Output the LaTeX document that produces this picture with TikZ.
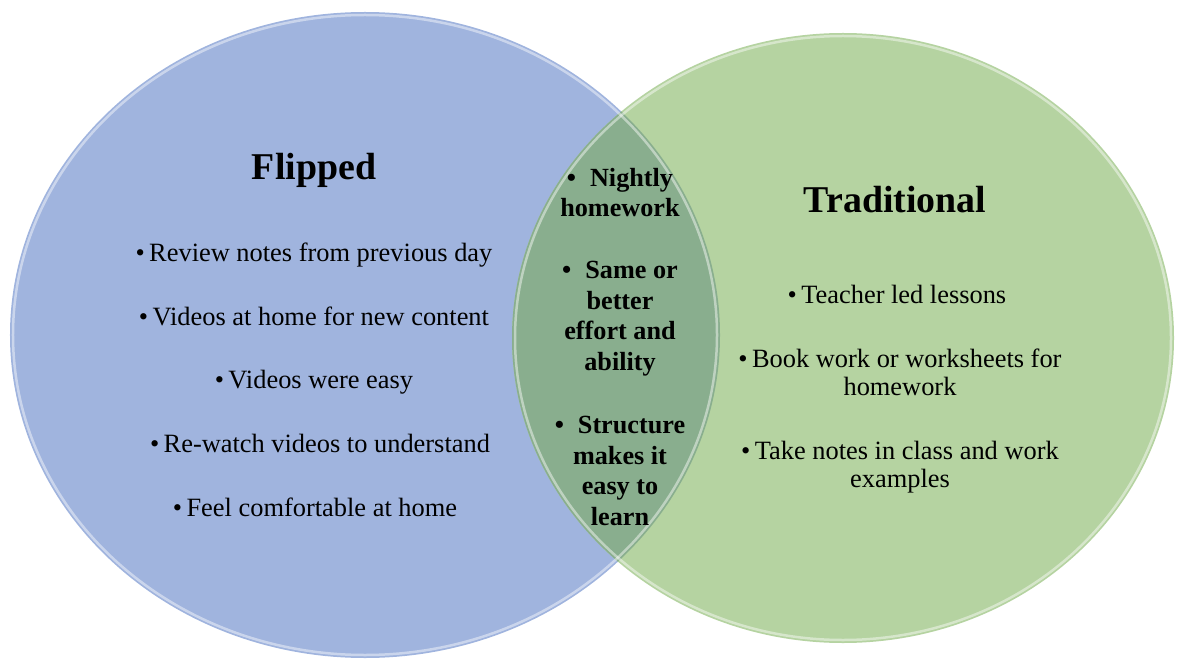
\documentclass[tikz,border=0pt]{standalone}
\usepackage{fontspec}
\setmainfont{Liberation Serif}
\usetikzlibrary{positioning}

\definecolor{flipblue}{RGB}{160,180,222}
\definecolor{tradgreen}{RGB}{181,211,161}
\definecolor{bothgreen}{RGB}{137,174,142}

\tikzset{
  heading/.style={font=\fontsize{38}{44}\selectfont\bfseries, inner sep=0pt, anchor=base},
  point/.style={font=\fontsize{26.5}{28}\selectfont, align=center, inner sep=0pt, anchor=base},
  shared/.style={font=\fontsize{26.3}{30.5}\selectfont\bfseries, align=center, inner sep=0pt, anchor=base},
  rim/.style={white, opacity=0.45, line width=2.5bp}
}

\begin{document}
\begin{tikzpicture}[x=1bp, y=-1bp]
                \useasboundingbox (0,0) rectangle (1181,660);
                % the two sets
                \fill[flipblue] (365,335) ellipse [x radius=355bp, y radius=323bp];
                \fill[tradgreen] (843,338) ellipse [x radius=331bp, y radius=305bp];
                \begin{scope}
                    \clip (365,335) ellipse [x radius=355bp, y radius=323bp];
                    \fill[bothgreen] (843,338) ellipse [x radius=331bp, y radius=305bp];
                \end{scope}
                \draw[rim] (365,335) ellipse [x radius=352bp, y radius=320bp];
                \draw[rim] (843,338) ellipse [x radius=328bp, y radius=302bp];
                % left set
                \node[heading] (Flipped) at (314,180) {Flipped};
                \node[point] (notes) at (314,261) {\textbullet\,Review notes from previous day};
                \node[point] (videos) at (314,325) {\textbullet\,Videos at home for new content};
                \node[point] (easy) at (314,388) {\textbullet\,Videos were easy};
                \node[point] (rewatch) at (320,452) {\textbullet\,Re-watch videos to understand};
                \node[point] (comfort) at (315,516) {\textbullet\,Feel comfortable at home};
                % right set
                \node[heading] (Traditional) at (895,213) {Traditional};
                \node[point] (teacher) at (897,303) {\textbullet\,Teacher led lessons};
                \node[point] (book) at (900,395) {\textbullet\,Book work or worksheets for\\homework};
                \node[point] (classnotes) at (900,487) {\textbullet\,Take notes in class and work\\examples};
                % both
                \node[shared] (nightly) at (620,217) {\textbullet\hspace{14pt}Nightly\\homework};
                \node[shared] (effort) at (620,370) {\textbullet\hspace{14pt}Same or\\better\\effort and\\ability};
                \node[shared] (structure) at (620,525) {\textbullet\hspace{14pt}Structure\\makes it\\easy to\\learn};
            \end{tikzpicture}
\end{document}
